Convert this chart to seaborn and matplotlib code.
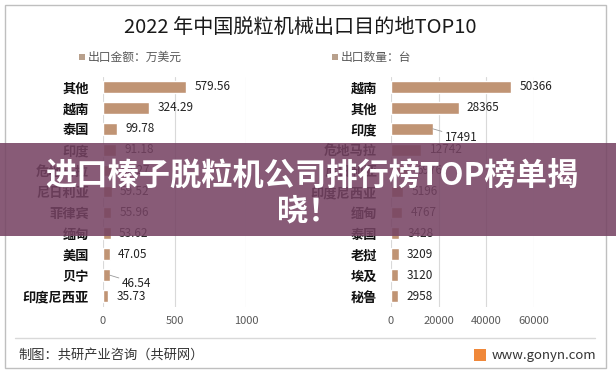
import matplotlib.pyplot as plt
import matplotlib.patches as mpatches
from matplotlib.lines import Line2D
import seaborn as sns
import pandas as pd

# Export value (10k USD) by destination
amount_countries = ['其他', '越南', '泰国', '印度', '危地马拉', '尼日利亚',
                    '菲律宾', '缅甸', '美国', '贝宁', '印度尼西亚']
amount_values = [579.56, 324.29, 99.78, 91.18, 62.27, 59.52,
                 55.96, 53.62, 47.05, 46.54, 35.73]
amount_ticks = [0, 500, 1000]

# Export quantity (units) by destination
qty_countries = ['越南', '其他', '印度', '危地马拉', '尼日利亚', '印度尼西亚',
                 '缅甸', '泰国', '老挝', '埃及', '秘鲁']
qty_values = [50366, 28365, 17491, 12742, 6976, 5196,
              4767, 3428, 3209, 3120, 2958]
qty_ticks = [0, 20000, 40000, 60000]

W, H = 616, 377
BAR = '#C09474'

sns.set_style('white')
plt.rcParams['font.family'] = ['Noto Sans CJK SC', 'DejaVu Sans']

fig = plt.figure(figsize=(W / 100, H / 100), dpi=100)


def draw_panel(left_px, countries, values, ticks, fmt, moved):
    ax = fig.add_axes([left_px / W, 1 - 306.5 / H, 143 / W, 230 / H])
    df = pd.DataFrame({'country': countries, 'value': values})
    sns.barplot(data=df, x='value', y='country', color=BAR, width=0.56,
                saturation=1, ax=ax)
    ax.set_xlim(ticks[0], ticks[-1])
    ax.set_xticks(ticks)
    ax.set_xlabel('')
    ax.set_ylabel('')
    ax.grid(axis='x', color='#D9D9D9', lw=0.8)
    ax.set_axisbelow(True)
    for s in ax.spines.values():
        s.set_visible(False)
    ax.tick_params(axis='x', length=0, labelsize=8, labelcolor='#595959', pad=7)
    ax.tick_params(axis='y', length=0, labelsize=9.5, labelcolor='#111111', pad=10)
    for lab in ax.get_yticklabels():
        lab.set_fontweight('bold')
    for i, v in enumerate(values):
        if i in moved:
            ax.annotate(fmt(v), xy=(v, i), xytext=(9, -6), textcoords='offset points',
                        va='center', fontsize=8.5, color='#222222',
                        arrowprops=dict(arrowstyle='-', color='#999999', lw=0.6,
                                        shrinkA=0, shrinkB=0))
        else:
            ax.annotate(fmt(v), xy=(v, i), xytext=(6, 0), textcoords='offset points',
                        va='center', fontsize=8.5, color='#222222')
    return ax


draw_panel(103, amount_countries, amount_values, amount_ticks,
           lambda v: f'{v:.2f}', moved=[9])
draw_panel(391, qty_countries, qty_values, qty_ticks,
           lambda v: f'{v:d}', moved=[2])

# title and legends
fig.text(300 / W, 1 - 27 / H, '2022 年中国脱粒机械出口目的地TOP10',
         ha='center', va='center', fontsize=14.5, color='#1a1a1a')
for mx, txt in [(82, '出口金额：万美元'), (335, '出口数量：台')]:
    fig.add_artist(mpatches.Rectangle(((mx - 3) / W, 1 - 60 / H), 6 / W, 6 / H,
                                      fc='#B8A08C', ec='none',
                                      transform=fig.transFigure))
    fig.text((mx + 6) / W, 1 - 57 / H, txt, ha='left', va='center',
             fontsize=8.5, color='#595959')

# frame and footer
fig.add_artist(mpatches.Rectangle((5 / W, 1 - 368 / H), 601 / W, 363 / H,
                                  fill=False, ec='#BFBFBF', lw=1,
                                  transform=fig.transFigure))
fig.add_artist(Line2D([15 / W, 595 / W], [1 - 338 / H] * 2, color='#D9D9D9',
                      lw=1, transform=fig.transFigure))
fig.text(18 / W, 1 - 355 / H, '制图：共研产业咨询（共研网）', ha='left', va='center',
         fontsize=9.5, color='#333333')
fig.add_artist(mpatches.Rectangle((474 / W, 1 - 361 / H), 12 / W, 12 / H,
                                  fc='#F0883A', ec='none', transform=fig.transFigure))
fig.text(492 / W, 1 - 355 / H, 'www.gonyn.com', ha='left', va='center',
         fontsize=9.5, color='#333333')

# banner overlay
fig.add_artist(mpatches.Rectangle((0, 1 - 236 / H), 1, 93 / H, fc='#764363',
                                  alpha=0.87, ec='none', zorder=10,
                                  transform=fig.transFigure))
fig.text(312 / W, 1 - 176 / H, '进口榛子脱粒机公司排行榜TOP榜单揭', ha='center',
         va='center', fontsize=22.5, fontweight='bold', color='white', zorder=11)
fig.text(308 / W, 1 - 211 / H, '晓！', ha='center', va='center',
         fontsize=22.5, fontweight='bold', color='white', zorder=11)

fig.savefig('out.png', dpi=100)
